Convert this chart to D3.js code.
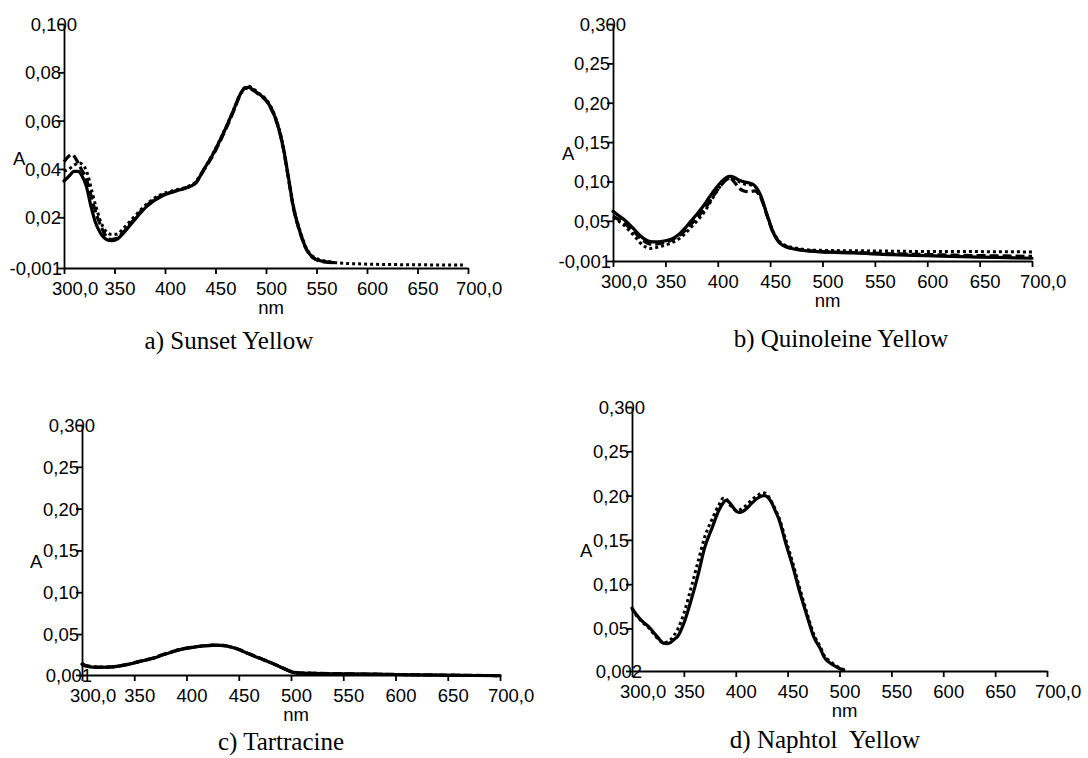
<!DOCTYPE html>
<html>
<head>
<meta charset="utf-8">
<script src="https://cdn.jsdelivr.net/npm/d3@7"></script>
<style>
  body { margin: 0; background: #fff; }
  svg { display: block; }
</style>
</head>
<body>
<div id="chart"></div>
<script>
// ---- data (wavelength nm, absorbance) ----
var xTicks = [300, 350, 400, 450, 500, 550, 600, 650, 700];
var xTickLabels = ["300,0", "350", "400", "450", "500", "550", "600", "650", "700,0"];

var sunsetTicks = [-0.001, 0.02, 0.04, 0.06, 0.08, 0.1];
var sunsetTickLabels = ["-0,001", "0,02", "0,04", "0,06", "0,08", "0,100"];
var quinTicks = [-0.001, 0.05, 0.10, 0.15, 0.20, 0.25, 0.3];
var quinTickLabels = ["-0,001", "0,05", "0,10", "0,15", "0,20", "0,25", "0,300"];
var tartTicks = [0.001, 0.05, 0.10, 0.15, 0.20, 0.25, 0.3];
var tartTickLabels = ["0,001", "0,05", "0,10", "0,15", "0,20", "0,25", "0,300"];
var naphTicks = [0.002, 0.05, 0.10, 0.15, 0.20, 0.25, 0.3];
var naphTickLabels = ["0,002", "0,05", "0,10", "0,15", "0,20", "0,25", "0,300"];

var sunsetSolid = [[300,0.035],[305,0.037],[310,0.039],[314,0.039],[318,0.037],[322,0.033],[327,0.024],[331,0.018],[336,0.0135],[342,0.0108],[347,0.0103],[352,0.0108],[359,0.0135],[369,0.0185],[382,0.0245],[398,0.029],[408,0.0305],[421,0.0322],[430,0.034],[438,0.0395],[448,0.0465],[458,0.055],[468,0.0645],[474,0.0705],[479,0.0735],[483,0.0738],[487,0.0728],[493,0.071],[499,0.069],[504,0.066],[511,0.059],[517,0.049],[522,0.037],[527,0.0245],[534,0.0135],[540,0.0068],[546,0.0035],[552,0.0022],[560,0.0015],[567,0.0012]];
var sunsetDashed = [[300,0.043],[304,0.045],[308,0.046],[312,0.044],[317,0.040],[322,0.036],[326,0.030],[330,0.024],[334,0.019],[338,0.015],[342,0.012],[347,0.0108],[352,0.0113],[359,0.014],[369,0.019],[382,0.025],[398,0.0292],[408,0.0306],[421,0.0322],[430,0.034],[438,0.0392],[448,0.046],[458,0.0545],[468,0.064],[474,0.0702],[479,0.0733],[483,0.0735],[487,0.0726],[493,0.0708],[499,0.0688],[504,0.0658],[511,0.0588],[517,0.0488],[522,0.0366],[527,0.0242],[534,0.0133],[540,0.0067],[546,0.0034],[552,0.0021],[560,0.0014],[568,0.0011]];
var sunsetDotted = [[300,0.039],[305,0.040],[310,0.0415],[315,0.0425],[320,0.041],[324,0.037],[328,0.030],[332,0.024],[336,0.0185],[341,0.0145],[346,0.013],[352,0.013],[359,0.0155],[369,0.020],[382,0.0255],[398,0.0298],[408,0.031],[421,0.0325],[430,0.0345],[438,0.0395],[448,0.0468],[458,0.0552],[468,0.0646],[474,0.0705],[479,0.0737],[483,0.0742],[487,0.0733],[493,0.0713],[499,0.0693],[504,0.0664],[511,0.0594],[517,0.0496],[522,0.0374],[527,0.025],[534,0.014],[540,0.0072],[546,0.0039],[552,0.0026],[560,0.0018],[570,0.0012],[600,0.0006],[630,0.0004],[660,0.0003],[695,0.0002]];

var quinSolid = [[300,0.062],[305,0.057],[311,0.051],[316,0.045],[321,0.038],[326,0.031],[331,0.026],[336,0.0235],[341,0.0232],[347,0.024],[354,0.026],[359,0.029],[364,0.034],[369,0.041],[374,0.049],[381,0.060],[388,0.072],[393,0.082],[398,0.091],[403,0.099],[408,0.105],[412,0.1065],[416,0.105],[420,0.102],[425,0.0995],[430,0.098],[435,0.095],[438,0.090],[440,0.085],[443,0.075],[446,0.062],[449,0.050],[452,0.038],[455,0.030],[458,0.0235],[462,0.019],[466,0.0165],[472,0.0145],[478,0.013],[488,0.0115],[499,0.0105],[530,0.0092],[566,0.0070],[600,0.0058],[633,0.0045],[667,0.0035],[700,0.0025]];
var quinDashed = [[300,0.056],[305,0.052],[311,0.047],[316,0.041],[321,0.035],[326,0.028],[331,0.023],[336,0.0205],[341,0.0205],[347,0.022],[354,0.0245],[359,0.028],[364,0.032],[369,0.038],[374,0.045],[381,0.055],[388,0.066],[393,0.076],[398,0.086],[403,0.095],[408,0.102],[412,0.104],[416,0.099],[420,0.092],[425,0.088],[430,0.087],[435,0.088],[438,0.086],[440,0.082],[443,0.073],[446,0.061],[449,0.049],[452,0.038],[455,0.030],[458,0.024],[462,0.0195],[466,0.017],[472,0.015],[478,0.0135],[488,0.012],[499,0.011],[530,0.0098],[566,0.0082],[600,0.0072],[633,0.0062],[667,0.0055],[700,0.0048]];
var quinDotted = [[300,0.054],[305,0.050],[311,0.044],[316,0.037],[321,0.030],[326,0.022],[331,0.017],[336,0.015],[341,0.016],[347,0.018],[354,0.021],[359,0.024],[364,0.028],[369,0.034],[374,0.041],[381,0.051],[388,0.063],[393,0.074],[398,0.085],[403,0.095],[408,0.102],[412,0.104],[416,0.103],[420,0.100],[425,0.097],[430,0.096],[435,0.094],[438,0.089],[440,0.084],[443,0.074],[446,0.062],[449,0.050],[452,0.039],[455,0.031],[458,0.025],[462,0.0205],[466,0.018],[472,0.016],[478,0.0145],[488,0.013],[499,0.0125],[530,0.012],[566,0.0115],[600,0.011],[633,0.011],[667,0.0108],[700,0.0105]];

var tartSolid = [[300,0.014],[303,0.012],[310,0.0105],[317,0.0102],[326,0.0103],[337,0.012],[349,0.015],[358,0.018],[368,0.021],[377,0.025],[387,0.0289],[396,0.032],[406,0.0341],[416,0.0357],[425,0.0365],[432,0.0365],[438,0.0357],[445,0.0335],[451,0.031],[460,0.026],[470,0.021],[480,0.016],[489,0.011],[495,0.0075],[502,0.0042],[510,0.0032],[521,0.003],[540,0.0025],[560,0.0022],[588,0.0018],[620,0.0012],[660,0.0006],[700,0.0002]];
var tartDashed = [[300,0.015],[303,0.0125],[310,0.011],[317,0.0105],[326,0.0106],[337,0.0123],[349,0.0153],[358,0.0183],[368,0.0213],[377,0.0253],[387,0.0292],[396,0.0323],[406,0.0344],[416,0.036],[425,0.0368],[432,0.0368],[438,0.036],[445,0.0338],[451,0.0313],[460,0.0263],[470,0.0213],[480,0.0163],[489,0.0113],[495,0.0078],[502,0.0045],[510,0.0034],[521,0.0031],[540,0.0026],[560,0.0023],[588,0.0019],[620,0.0013],[660,0.0007],[700,0.0003]];
var tartDotted = [[300,0.013],[303,0.0118],[310,0.0108],[317,0.0104],[326,0.0104],[337,0.0121],[349,0.0151],[358,0.0181],[368,0.0211],[377,0.0251],[387,0.029],[396,0.0321],[406,0.0342],[416,0.0358],[425,0.0366],[432,0.0366],[438,0.0358],[445,0.0336],[451,0.0311],[460,0.0261],[470,0.0211],[480,0.0161],[489,0.0111],[495,0.0077],[502,0.0044],[510,0.0033],[521,0.003],[540,0.0025],[560,0.0022],[588,0.0018],[620,0.0012],[660,0.0006],[700,0.0002]];

var naphSolid = [[300,0.073],[304,0.066],[310,0.058],[316,0.052],[323,0.0425],[327,0.037],[330,0.0335],[334,0.033],[337,0.034],[341,0.038],[344,0.041],[350,0.056],[357,0.082],[364,0.112],[370,0.141],[377,0.163],[384,0.184],[388,0.192],[391,0.195],[394,0.192],[398,0.186],[401,0.182],[404,0.181],[408,0.183],[411,0.186],[416,0.192],[421,0.197],[425,0.1995],[428,0.2],[431,0.198],[435,0.191],[438,0.183],[442,0.172],[448,0.147],[455,0.12],[462,0.09],[469,0.063],[475,0.041],[482,0.026],[485,0.018],[491,0.011],[498,0.006],[504,0.003]];
var naphDotted = [[300,0.072],[304,0.065],[310,0.057],[316,0.051],[323,0.041],[327,0.036],[330,0.034],[334,0.035],[337,0.037],[341,0.043],[344,0.049],[350,0.067],[357,0.096],[364,0.127],[370,0.153],[377,0.173],[384,0.19],[388,0.197],[391,0.196],[394,0.19],[398,0.185],[401,0.183],[404,0.184],[408,0.187],[411,0.19],[416,0.196],[421,0.2],[425,0.203],[428,0.203],[431,0.2],[435,0.192],[438,0.185],[442,0.174],[448,0.151],[455,0.124],[462,0.094],[469,0.066],[475,0.044],[482,0.028],[485,0.02],[491,0.013],[498,0.007],[504,0.0035],[507,0.002]];

// ---- layout ----
var width = 1088, height = 758;

var panels = [
  { caption: "a) Sunset Yellow", left: 64, right: 468, top: 24, bottom: 268,
    yDomain: [-0.001, 0.1], yTicks: sunsetTicks, yLabels: sunsetTickLabels,
    series: [[sunsetDotted, "dotted"], [sunsetDashed, "dashed"], [sunsetSolid, "solid"]],
    aX: 13, aY: 165, capX: 229, capY: 349 },
  { caption: "b) Quinoleine Yellow", left: 613, right: 1032, top: 24, bottom: 261,
    yDomain: [-0.001, 0.3], yTicks: quinTicks, yLabels: quinTickLabels,
    series: [[quinDotted, "dotted"], [quinDashed, "dashed"], [quinSolid, "solid"]],
    aX: 562, aY: 160, capX: 841, capY: 347 },
  { caption: "c) Tartracine", left: 82, right: 500, top: 425, bottom: 675,
    yDomain: [0.001, 0.3], yTicks: tartTicks, yLabels: tartTickLabels,
    series: [[tartDotted, "dotted"], [tartDashed, "dashed"], [tartSolid, "solid"]],
    aX: 30, aY: 568, capX: 281, capY: 750 },
  { caption: "d) Naphtol  Yellow", left: 632, right: 1047, top: 407, bottom: 671,
    yDomain: [0.002, 0.3], yTicks: naphTicks, yLabels: naphTickLabels,
    series: [[naphDotted, "dotted"], [naphSolid, "solid"]],
    aX: 580, aY: 557, capX: 825, capY: 748 }
];

var lineStyles = {
  solid:  { w: 3.2, dash: null },
  dashed: { w: 3.2, dash: "9,4" },
  dotted: { w: 3,   dash: "3,3" }
};

var sansFont = '"Liberation Sans", Arial, sans-serif';

var svg = d3.select("#chart").append("svg")
  .attr("width", width)
  .attr("height", height);

panels.forEach(drawPanel);

function drawPanel(p) {
  var x = d3.scaleLinear().domain([300, 700]).range([p.left, p.right]);
  var y = d3.scaleLinear().domain(p.yDomain).range([p.bottom, p.top]);
  var g = svg.append("g");

  // x axis
  var gx = g.append("g")
    .attr("transform", "translate(0," + p.bottom + ")")
    .call(d3.axisBottom(x).tickValues(xTicks)
      .tickFormat(function(d, i) { return xTickLabels[i]; })
      .tickSize(6).tickSizeOuter(0));
  gx.selectAll("text")
    .attr("y", 27).attr("dy", null)
    .attr("text-anchor", function(d, i) { return xTickLabels[i].indexOf(",") >= 0 ? "start" : "middle"; })
    .attr("x", function(d, i) { return xTickLabels[i].indexOf(",") >= 0 ? -12.5 : 5; });

  // y axis
  var n = p.yTicks.length;
  var gy = g.append("g")
    .attr("transform", "translate(" + p.left + ",0)")
    .call(d3.axisLeft(y).tickValues(p.yTicks)
      .tickFormat(function(d, i) { return p.yLabels[i]; })
      .tickSize(6).tickSizeOuter(0));
  gy.selectAll("text")
    .attr("dy", "0.35em")
    .attr("x", function(d, i) {
      if (i === n - 1) return 13;
      if (i === 0) return p.yLabels[0].charAt(0) === "-" ? -2 : 10;
      return -3;
    });

  [gx, gy].forEach(function(a) {
    a.attr("font-size", null).attr("font-family", null);
    a.selectAll("path, line").attr("stroke", "#000").attr("stroke-width", 1.8);
    a.selectAll("text").attr("fill", "#000")
      .style("font-family", sansFont).style("font-size", "18.5px");
  });

  // curves
  var line = d3.line()
    .x(function(d) { return x(d[0]); })
    .y(function(d) { return y(d[1]); })
    .curve(d3.curveMonotoneX);

  p.series.forEach(function(s) {
    var st = lineStyles[s[1]];
    g.append("path")
      .datum(s[0])
      .attr("d", line)
      .attr("fill", "none")
      .attr("stroke", "#000")
      .attr("stroke-width", st.w)
      .attr("stroke-linejoin", "round")
      .attr("stroke-linecap", st.dash ? "butt" : "round")
      .attr("stroke-dasharray", st.dash);
  });

  // axis titles
  g.append("text")
    .attr("x", p.aX).attr("y", p.aY)
    .style("font-family", sansFont).style("font-size", "18.5px")
    .text("A");
  g.append("text")
    .attr("x", (p.left + p.right) / 2 + 5).attr("y", p.bottom + 46)
    .attr("text-anchor", "middle")
    .style("font-family", sansFont).style("font-size", "18.5px")
    .text("nm");

  // caption
  g.append("text")
    .attr("x", p.capX).attr("y", p.capY)
    .attr("text-anchor", "middle")
    .attr("xml:space", "preserve")
    .style("white-space", "pre")
    .style("font-family", '"Liberation Serif", "Times New Roman", serif')
    .style("font-size", "25px")
    .text(p.caption);
}
</script>
</body>
</html>
